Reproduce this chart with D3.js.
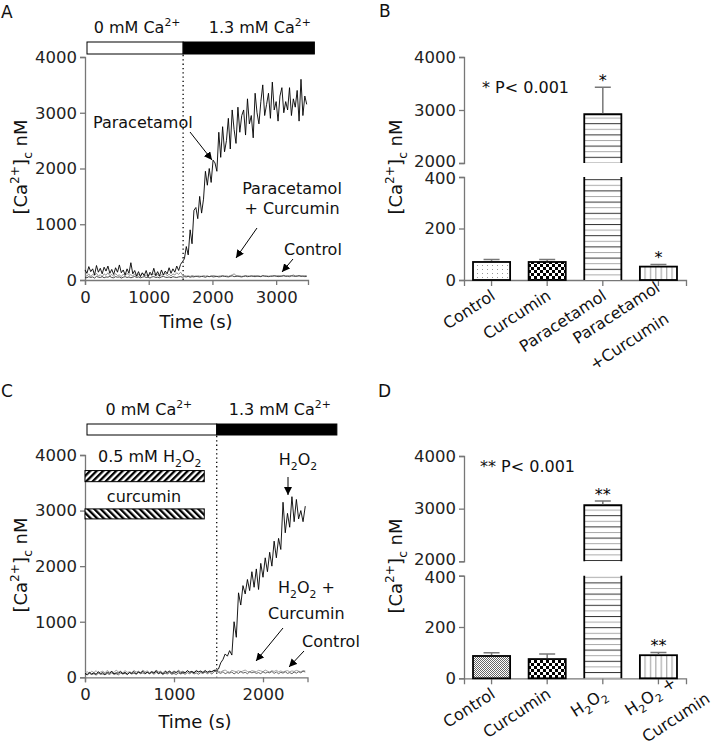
<!DOCTYPE html>
<html>
<head>
<meta charset="utf-8">
<script src="https://cdn.jsdelivr.net/npm/d3@7"></script>
<style>
  body { margin: 0; background: #fff; }
  svg { display: block; font-family: "DejaVu Sans", "Liberation Sans", Arial, sans-serif; }
</style>
</head>
<body>
<svg id="chart" width="714" height="745"></svg>
<script>
// ---- panel A traces (sampled every 30 s) ----
const stepA = 30;
const paracetamolA = [180,120,240,150,200,90,260,140,210,110,230,160,250,120,190,100,220,140,270,130,
  180,90,200,120,310,110,170,70,150,60,130,80,170,60,140,90,210,80,150,70,
  180,90,160,110,220,120,200,140,250,170,280,330,
  380,600,450,900,650,1250,1300,1100,1500,1200,1450,1950,1700,2000,1750,2150,2100,1950,2650,2200,
  2750,2300,2500,2900,2350,3050,2700,2450,3100,2650,2950,3050,2600,3250,2800,2950,2550,3350,3000,2800,
  3200,3500,2950,3150,3350,2900,3550,3050,3200,2850,3300,3450,3000,3200,3050,3450,2950,3250,3100,3400,
  2850,3600,2950,3300,3150];
const controlA = [50,40,60,45,55,35,65,50,45,60,40,55,50,65,45,40,60,50,55,35,
  50,60,45,55,40,50,65,45,55,40,50,60,45,50,35,55,60,45,50,40,
  55,65,50,45,55,40,60,50,45,55,60,50,
  60,55,65,50,60,55,70,60,55,65,60,50,65,60,70,55,60,65,55,60,
  70,65,60,55,65,75,60,65,70,60,55,65,70,60,65,75,65,60,70,65,
  60,75,70,65,60,70,65,75,70,60,65,70,75,65,70,60,75,70,65,70,
  75,65,70,60,65];
const paraCurcuminA = [90,70,110,60,100,80,120,70,95,60,110,85,130,75,100,65,115,80,90,60,
  105,75,120,85,95,70,110,60,100,80,125,70,90,65,105,80,115,70,100,60,
  95,85,120,75,105,70,110,90,130,100,140,90,
  80,70,75,65,80,70,60,75,70,65,80,70,75,60,70,80,75,65,70,75,
  80,70,75,65,80,90,110,80,70,75,65,70,80,75,70,65,75,80,70,75,
  65,80,70,75,70,65,80,75,70,80,75,70,85,75,70,80,75,90,75,70,
  80,75,70,80,75];
const solutionA = [0, 1540, 3600];

// ---- panel C traces (sampled every 25 s) ----
const stepC = 25;
const h2o2C = [70,50,90,60,80,55,100,65,85,50,95,70,110,60,80,75,100,65,90,55,
  85,70,105,60,95,80,110,70,90,65,100,75,120,70,95,60,105,80,115,70,
  100,85,110,75,95,80,120,90,105,80,115,95,110,85,120,90,110,100,125,110,
  150,260,320,420,380,480,400,1000,720,1520,1300,1650,1500,1760,1560,1900,1620,1950,1580,2050,
  1800,2150,1900,2250,2000,2450,2150,2500,2300,3150,2600,2950,2700,3250,2800,3200,2850,3000,2800,3080];
const controlC = [60,45,70,50,65,40,75,55,60,45,70,50,80,55,65,45,75,60,70,50,
  85,60,75,55,90,65,80,60,95,70,85,55,90,65,80,50,75,60,85,55,
  70,50,80,60,75,55,85,65,90,60,80,55,85,70,95,65,90,60,100,120,
  90,70,100,65,85,75,95,60,90,70,105,75,90,65,100,80,95,70,85,65,
  100,75,90,80,105,70,95,65,90,75,100,70,85,65,95,75,100,80,110,95];
const h2o2CurcuminC = [80,100,70,110,85,120,75,95,110,80,125,90,100,85,130,95,110,80,120,90,
  100,85,125,95,110,80,130,100,115,85,105,90,125,100,110,80,120,95,105,85,
  115,90,130,100,110,85,120,95,105,90,125,100,115,90,120,95,110,100,130,140,
  110,95,120,130,105,90,125,110,100,120,95,115,130,105,95,120,110,100,125,115,
  100,130,110,95,120,105,125,100,115,95,110,120,100,115,105,125,110,100,120,115];
const solutionC = [0, 1480, 2830];
const treatTimeC = [0, 1340];
const h2o2BarC = [3520, 3720];
const curcuminBarC = [2850, 3030];

// ---- bar panels ----
const catsB = ["Control", "Curcumin", "Paracetamol", "Paracetamol+Curcumin"];
const meanB = [70, 70, 2920, 52];
const semB = [10, 10, 510, 8];
const starsB = ["", "", "*", "*"];

const catsD = ["Control", "Curcumin", "H2O2", "H2O2+Curcumin"];
const meanD = [87, 75, 3065, 90];
const semD = [13, 20, 80, 11];
const starsD = ["", "", "**", "**"];

const lowTicks = [0, 200, 400];
const highTicks = [2000, 3000, 4000];

const svg = d3.select('#chart');
const defs = svg.append('defs');

defs.append('marker').attr('id', 'arrow')
  .attr('viewBox', '0 0 10 10').attr('refX', 10).attr('refY', 5)
  .attr('markerWidth', 8).attr('markerHeight', 8)
  .attr('markerUnits', 'userSpaceOnUse').attr('orient', 'auto')
  .append('path').attr('d', 'M0,0L10,5L0,10z').attr('fill', '#000');

// fill patterns for the bars
function pattern(id, w, h, transform) {
  const p = defs.append('pattern').attr('id', id)
    .attr('patternUnits', 'userSpaceOnUse').attr('width', w).attr('height', h);
  if (transform) p.attr('patternTransform', transform);
  p.append('rect').attr('width', w).attr('height', h).attr('fill', '#fff');
  return p;
}
pattern('pDots', 5, 4).append('rect').attr('x', 2).attr('y', 1).attr('width', 1).attr('height', 1).attr('fill', '#999');
const chk = pattern('pCheck', 6, 6);
chk.append('rect').attr('width', 3).attr('height', 3).attr('fill', '#000');
chk.append('rect').attr('x', 3).attr('y', 3).attr('width', 3).attr('height', 3).attr('fill', '#000');
const fine = pattern('pFine', 2, 2);
fine.append('rect').attr('width', 1).attr('height', 1).attr('fill', '#666');
fine.append('rect').attr('x', 1).attr('y', 1).attr('width', 1).attr('height', 1).attr('fill', '#666');
const hz = pattern('pHoriz', 6, 11.2);
hz.append('rect').attr('y', 0).attr('width', 6).attr('height', 1).attr('fill', '#333');
hz.append('rect').attr('y', 5.6).attr('width', 6).attr('height', 1).attr('fill', '#aaa');
pattern('pVert', 5.4, 6).append('rect').attr('x', 2).attr('width', 1).attr('height', 6).attr('fill', '#999');
pattern('pDiagF', 4.6, 4.6, 'rotate(45)').append('rect').attr('width', 2.3).attr('height', 4.6).attr('fill', '#000');
pattern('pDiagB', 4.6, 4.6, 'rotate(-45)').append('rect').attr('width', 2.3).attr('height', 4.6).attr('fill', '#000');

// text with superscripts / subscripts
function rich(sel, parts, fs) {
  let cur = 0;
  parts.forEach(([t, k]) => {
    const off = k === 'sup' ? -0.42 * fs : k === 'sub' ? 0.3 * fs : 0;
    sel.append('tspan').attr('dy', off - cur).attr('font-size', k === 'n' ? fs : fs * 0.68).text(t);
    cur = off;
  });
  return sel;
}
function label(x, y, parts, fs, anchor) {
  const t = svg.append('text').attr('x', x).attr('y', y).attr('fill', '#111')
    .attr('text-anchor', anchor || 'start').attr('font-size', fs);
  return rich(t, parts, fs);
}
function arrow(x1, y1, x2, y2) {
  svg.append('line').attr('x1', x1).attr('y1', y1).attr('x2', x2).attr('y2', y2)
    .attr('stroke', '#000').attr('stroke-width', 1).attr('marker-end', 'url(#arrow)');
}
function styleAxis(g) {
  g.attr('font-family', null).attr('font-size', 16.5);
  g.select('.domain').attr('stroke', '#777').attr('stroke-width', 1.3);
  g.selectAll('.tick line').attr('stroke', '#777').attr('stroke-width', 1.3);
  g.selectAll('.tick text').attr('fill', '#222');
}
const fmt = d3.format('d');
const yTitle = [['[Ca', 'n'], ['2+', 'sup'], [']', 'n'], ['c', 'sub'], [' nM', 'n']];
const caLabel = (pre) => [[pre + ' mM Ca', 'n'], ['2+', 'sup']];
const H2O2 = [['H', 'n'], ['2', 'sub'], ['O', 'n'], ['2', 'sub']];

function yTitleAt(x, y) {
  const t = svg.append('text').attr('transform', `translate(${x},${y}) rotate(-90)`)
    .attr('text-anchor', 'middle').attr('font-size', 18).attr('fill', '#111');
  rich(t, yTitle, 18);
}

// ---------- trace panels ----------
function tracePanel(o) {
  const x = d3.scaleLinear().domain([0, o.xmax]).range([85, o.xr]);
  const y = d3.scaleLinear().domain([0, 4000]).range([o.y0, o.y4]);
  styleAxis(svg.append('g').attr('transform', `translate(0,${o.y0})`)
    .call(d3.axisBottom(x).tickValues(o.xticks).tickFormat(fmt).tickSizeOuter(0).tickSize(5).tickPadding(6)));
  styleAxis(svg.append('g').attr('transform', 'translate(85,0)')
    .call(d3.axisLeft(y).tickValues([0, 1000, 2000, 3000, 4000]).tickFormat(fmt).tickSizeOuter(0).tickSize(5)));

  // solution bar
  const sb = o.solution;
  svg.append('rect').attr('x', x(sb[0]) + 2).attr('y', o.barY).attr('width', x(sb[1]) - x(sb[0]) - 2)
    .attr('height', o.barH).attr('fill', '#fff').attr('stroke', '#000').attr('stroke-width', 1);
  svg.append('rect').attr('x', x(sb[1])).attr('y', o.barY).attr('width', x(sb[2]) - x(sb[1]))
    .attr('height', o.barH).attr('fill', '#000').attr('stroke', '#000').attr('stroke-width', 1);
  label((x(sb[0]) + x(sb[1])) / 2 + o.l0dx, o.barY - 9, caLabel('0'), 16, 'middle');
  label((x(sb[1]) + x(sb[2])) / 2 + o.l1dx, o.barY - 9, caLabel('1.3'), 16, 'middle');

  svg.append('line').attr('x1', x(sb[1])).attr('x2', x(sb[1]))
    .attr('y1', o.barY + o.barH + 1).attr('y2', o.y0)
    .attr('stroke', '#000').attr('stroke-width', 1.3).attr('stroke-dasharray', '1.3,3');

  o.series.forEach(s => {
    svg.append('path').datum(s.v)
      .attr('d', d3.line().x((d, i) => x(i * o.step)).y(d => y(d)))
      .attr('fill', 'none').attr('stroke', s.c).attr('stroke-width', s.w);
  });
  return { x, y };
}

// Panel A
tracePanel({
  xmax: 3500, xr: 308, y0: 280, y4: 57, xticks: [0, 1000, 2000, 3000],
  solution: solutionA, barY: 42, barH: 12, l0dx: 3, l1dx: 11, step: stepA,
  series: [
    { v: paraCurcuminA, c: '#8a8a8a', w: 0.9 },
    { v: controlA, c: '#333', w: 0.9 },
    { v: paracetamolA, c: '#000', w: 0.9 }
  ]
});
svg.append('text').attr('x', 196).attr('y', 328).attr('text-anchor', 'middle')
  .attr('font-size', 18).attr('fill', '#111').text('Time (s)');
yTitleAt(27, 167);
label(1, 18, [['A', 'n']], 17);
label(93, 128, [['Paracetamol', 'n']], 16);
arrow(190, 132, 212, 160);
label(292, 194, [['Paracetamol', 'n']], 16, 'middle');
label(292, 214, [['+ Curcumin', 'n']], 16, 'middle');
arrow(257, 228, 236, 258);
label(284, 255, [['Control', 'n']], 16);
arrow(293, 259, 282, 272);

// Panel C
const pc = tracePanel({
  xmax: 2500, xr: 307.5, y0: 677.3, y4: 455, xticks: [0, 1000, 2000],
  solution: solutionC, barY: 424, barH: 11, l0dx: -2, l1dx: 3, step: stepC,
  series: [
    { v: h2o2CurcuminC, c: '#999', w: 0.9 },
    { v: controlC, c: '#555', w: 0.9 },
    { v: h2o2C, c: '#000', w: 0.9 }
  ]
});
[[h2o2BarC, 'pDiagF'], [curcuminBarC, 'pDiagB']].forEach(([b, pid]) => {
  svg.append('rect').attr('x', pc.x(treatTimeC[0])).attr('y', pc.y(b[1]))
    .attr('width', pc.x(treatTimeC[1]) - pc.x(treatTimeC[0])).attr('height', pc.y(b[0]) - pc.y(b[1]))
    .attr('fill', `url(#${pid})`).attr('stroke', '#000').attr('stroke-width', 1);
});
svg.append('text').attr('x', 195).attr('y', 728).attr('text-anchor', 'middle')
  .attr('font-size', 18).attr('fill', '#111').text('Time (s)');
yTitleAt(27, 565);
label(1, 397, [['C', 'n']], 17);
label(98, 462, [['0.5 mM ', 'n']].concat(H2O2), 16);
label(144, 502, [['curcumin', 'n']], 16, 'middle');
label(298, 465, H2O2, 16, 'middle');
arrow(288, 477, 288, 495);
label(278, 593, H2O2.concat([[' +', 'n']]), 16);
label(268, 619, [['Curcumin', 'n']], 16);
arrow(283, 628, 256, 661);
label(302, 647, [['Control', 'n']], 16);
arrow(304, 651, 289, 667);

// ---------- bar panels (broken y axis) ----------
function barPanel(o) {
  const x = d3.scaleBand().domain(o.cats).range([464, 686]).paddingInner(0.333).paddingOuter(0.162);
  const yLo = d3.scaleLinear().domain([0, 400]).range([o.y0, o.y400]);
  const yHi = d3.scaleLinear().domain([2000, 4000]).range([o.y2000, o.y4000]);

  const gLo = svg.append('g').attr('transform', 'translate(464,0)')
    .call(d3.axisLeft(yLo).tickValues(lowTicks).tickFormat(fmt).tickSizeOuter(0).tickSize(5));
  styleAxis(gLo);
  gLo.selectAll('.tick text').filter(d => d === 400).attr('dy', '0.42em');
  const gHi = svg.append('g').attr('transform', 'translate(464,0)')
    .call(d3.axisLeft(yHi).tickValues(highTicks).tickFormat(fmt).tickSizeOuter(0).tickSize(5));
  styleAxis(gHi);
  gHi.selectAll('.tick text').filter(d => d === 2000).attr('dy', '0.22em');
  styleAxis(svg.append('g').attr('transform', `translate(0,${o.y0})`)
    .call(d3.axisBottom(x).tickSizeOuter(0).tickSize(6).tickFormat('')));

  o.cats.forEach((c, i) => {
    const v = o.mean[i], bx = x(c), bw = x.bandwidth(), cx = bx + bw / 2;
    const fill = `url(#${o.fills[i]})`;
    let top;
    if (v <= 400) {
      top = yLo(v);
      svg.append('rect').attr('x', bx).attr('y', top).attr('width', bw).attr('height', o.y0 - top)
        .attr('fill', fill).attr('stroke', '#000').attr('stroke-width', 1.8);
    } else {
      top = yHi(v);
      svg.append('rect').attr('x', bx).attr('y', yLo(400)).attr('width', bw).attr('height', o.y0 - yLo(400))
        .attr('fill', fill);
      svg.append('rect').attr('x', bx).attr('y', top).attr('width', bw).attr('height', yHi(2000) - top)
        .attr('fill', fill);
      svg.append('path')
        .attr('d', `M${bx},${o.y0}V${yLo(400)}M${bx + bw},${o.y0}V${yLo(400)}` +
          `M${bx},${yHi(2000)}V${top}H${bx + bw}V${yHi(2000)}`)
        .attr('fill', 'none').attr('stroke', '#000').attr('stroke-width', 1.8);
    }
    const e = v + o.sem[i];
    const ey = e <= 400 ? yLo(e) : yHi(e);
    svg.append('path').attr('d', `M${cx},${top - 1}V${ey}M${cx - 8},${ey}H${cx + 8}`)
      .attr('fill', 'none').attr('stroke', '#777').attr('stroke-width', 1.5);
    if (o.stars[i]) label(cx, ey - 1.5, [[o.stars[i], 'n']], 16, 'middle').attr('fill', '#000');

    // rotated category label
    const g = svg.append('g').attr('transform', `translate(${cx},${o.y0}) rotate(-33)`);
    const lines = o.labels[i];
    if (lines.length === 1) {
      rich(g.append('text').attr('x', -6).attr('y', 18).attr('text-anchor', 'end')
        .attr('font-size', 16).attr('fill', '#111'), lines[0], 16);
    } else {
      lines.forEach((ln, j) => {
        rich(g.append('text').attr('x', o.multiX).attr('y', o.multiY[j])
          .attr('font-size', 16).attr('fill', '#111'), ln, 16);
      });
    }
  });
}

barPanel({
  cats: catsB, mean: meanB, sem: semB, stars: starsB,
  y0: 280, y400: 177, y2000: 163, y4000: 57,
  fills: ['pDots', 'pCheck', 'pHoriz', 'pVert'],
  labels: [[[['Control', 'n']]], [[['Curcumin', 'n']]], [[['Paracetamol', 'n']]],
    [[['Paracetamol', 'n']], [['+Curcumin', 'n']]]],
  multiX: -103, multiY: [10, 41]
});
yTitleAt(402, 167);
label(379, 17, [['B', 'n']], 17);
label(482, 93, [['* P< 0.001', 'n']], 16);

barPanel({
  cats: catsD, mean: meanD, sem: semD, stars: starsD,
  y0: 678.3, y400: 575.7, y2000: 561.3, y4000: 456,
  fills: ['pFine', 'pCheck', 'pHoriz', 'pVert'],
  labels: [[[['Control', 'n']]], [[['Curcumin', 'n']]], [H2O2],
    [H2O2.concat([[' +', 'n']]), [['Curcumin', 'n']]]],
  multiX: -45, multiY: [16, 48]
});
yTitleAt(402, 566);
label(378, 397, [['D', 'n']], 17);
label(480, 472, [['** P< 0.001', 'n']], 16);
</script>
</body>
</html>
